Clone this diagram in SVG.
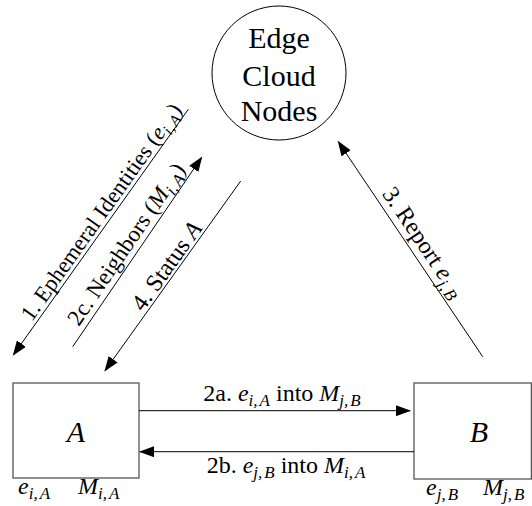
<svg xmlns="http://www.w3.org/2000/svg" width="532" height="506" viewBox="0 0 532 506">
<style>
text{font-family:'Liberation Serif','DejaVu Serif',serif;fill:#000}
.big{font-size:30px}
.lab{font-size:24px}
.s{font-size:17px;font-style:italic}
.i{font-style:italic}
.box{fill:#fff;stroke:#555;stroke-width:1.3}
.edge{stroke:#000;stroke-width:1;fill:none;marker-end:url(#ah)}
</style>
<defs>
<marker id="ah" markerUnits="userSpaceOnUse" markerWidth="15" markerHeight="11" refX="14" refY="5.5" orient="auto">
<path d="M0,0 L15,5.5 L0,11 Z" fill="#000"/>
</marker>
</defs>
<rect width="532" height="506" fill="#fff"/>
<g id="cloud">
<circle cx="279" cy="73" r="67" fill="#fff" stroke="#000" stroke-width="1"/>
<text class="big" x="279" y="48" text-anchor="middle">Edge</text>
<text class="big" x="279" y="86" text-anchor="middle">Cloud</text>
<text class="big" x="279" y="121" text-anchor="middle">Nodes</text>
</g>
<g id="nodeA">
<rect class="box" x="13" y="383" width="126" height="95"/>
<text class="big i" x="76" y="442" text-anchor="middle">A</text>
<text class="lab" x="18" y="494"><tspan class="i">e</tspan><tspan class="s" dy="5">i,</tspan><tspan class="s" dx="2">A</tspan></text>
<text class="lab" x="78" y="494"><tspan class="i">M</tspan><tspan class="s" dy="5">i,</tspan><tspan class="s" dx="2">A</tspan></text>
</g>
<g id="nodeB">
<rect class="box" x="414" y="383" width="117.4" height="96"/>
<text class="big i" x="479" y="442" text-anchor="middle">B</text>
<text class="lab" x="426" y="495"><tspan class="i">e</tspan><tspan class="s" dy="5">j,</tspan><tspan class="s" dx="2">B</tspan></text>
<text class="lab" x="483" y="495"><tspan class="i">M</tspan><tspan class="s" dy="5">j,</tspan><tspan class="s" dx="2">B</tspan></text>
</g>
<g id="connectors">
<line class="edge" x1="188.3" y1="109.3" x2="13.3" y2="355"/>
<line class="edge" x1="72.7" y1="346.7" x2="201.7" y2="157.3"/>
<line class="edge" x1="240.7" y1="181" x2="105" y2="370.7"/>
<line class="edge" x1="482.7" y1="356.7" x2="338.3" y2="141.7"/>
<line class="edge" x1="139" y1="410.7" x2="410" y2="410.7"/>
<line class="edge" x1="414" y1="451.7" x2="140" y2="451.7"/>
<text class="lab" font-size="22.5" style="font-size:22.5px" transform="translate(107.2,216.2) rotate(-54.6)" text-anchor="middle">1. Ephemeral Identities (<tspan class="i">e</tspan><tspan class="s" style="font-size:16px" dy="5">i,</tspan><tspan class="s" style="font-size:16px" dx="2">A</tspan><tspan dy="-5">)</tspan></text>
<text class="lab" style="font-size:23px" transform="translate(132.4,248.3) rotate(-55.7)" text-anchor="middle">2c. Neighbors (<tspan class="i">M</tspan><tspan class="s" dy="5">i,</tspan><tspan class="s" dx="2">A</tspan><tspan dy="-5">)</tspan></text>
<text class="lab" transform="translate(173,270.6) rotate(-54.4)" text-anchor="middle">4. Status <tspan class="i">A</tspan></text>
<text class="lab" transform="translate(417.1,246.5) rotate(56.1)" text-anchor="middle">3. Report <tspan class="i">e</tspan><tspan class="s" dy="5">j,</tspan><tspan class="s" dx="2">B</tspan></text>
<text class="lab" x="282" y="401" text-anchor="middle">2a. <tspan class="i">e</tspan><tspan class="s" dy="5">i,</tspan><tspan class="s" dx="2">A</tspan><tspan dy="-5"> into </tspan><tspan class="i">M</tspan><tspan class="s" dy="5">j,</tspan><tspan class="s" dx="2">B</tspan></text>
<text class="lab" x="286" y="473" text-anchor="middle">2b. <tspan class="i">e</tspan><tspan class="s" dy="5">j,</tspan><tspan class="s" dx="2">B</tspan><tspan dy="-5"> into </tspan><tspan class="i">M</tspan><tspan class="s" dy="5">i,</tspan><tspan class="s" dx="2">A</tspan></text>
</g>
</svg>
